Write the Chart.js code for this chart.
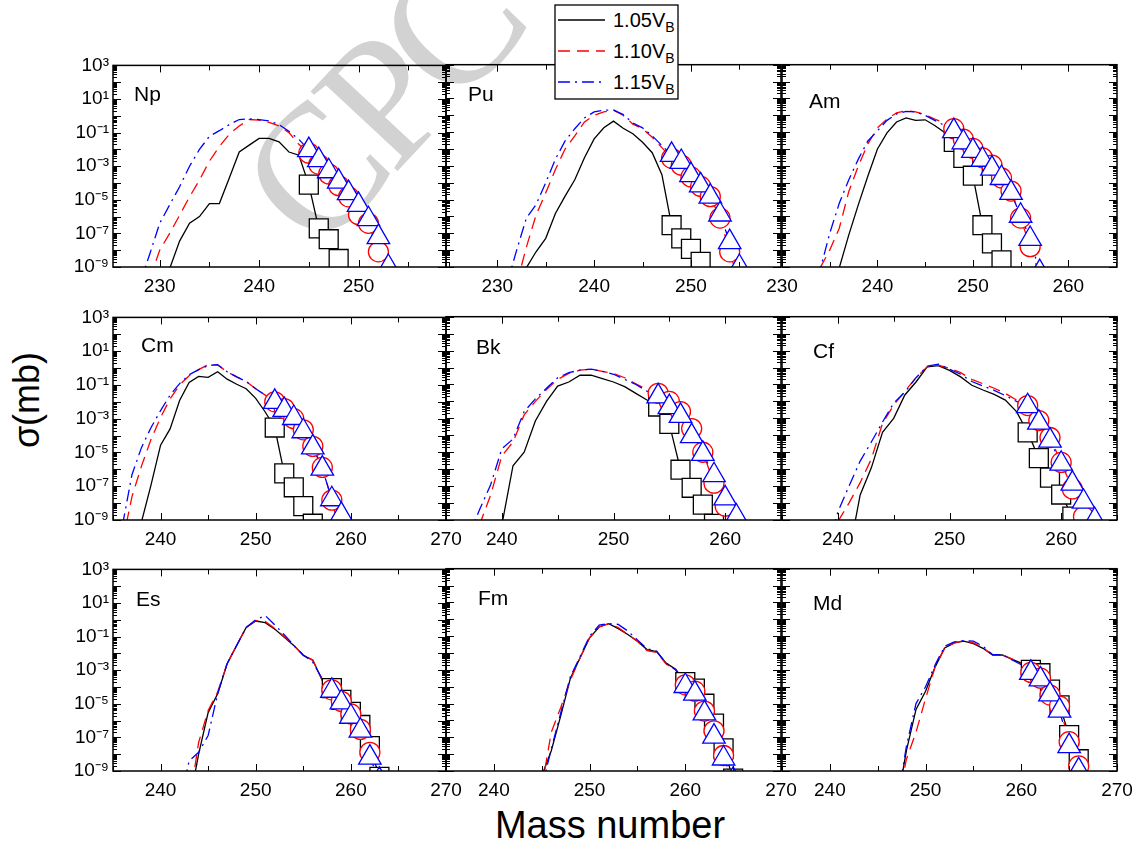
<!DOCTYPE html>
<html><head><meta charset="utf-8">
<script src="https://cdn.jsdelivr.net/npm/chart.js@4.4.1/dist/chart.umd.min.js"></script>
<style>
body{margin:0;background:#fff;}
#wrap{position:relative;width:1143px;height:855px;overflow:hidden;background:#fff;font-family:"Liberation Sans",Arial,sans-serif;}
#wrap canvas{position:absolute;}
#wm{position:absolute;left:380px;top:102px;transform:translate(-50%,-50%) rotate(-47deg);font-family:"Liberation Serif","Times New Roman",serif;font-size:180px;letter-spacing:-10px;color:#d2d2d2;line-height:1;white-space:nowrap;}
#xt{position:absolute;left:410px;top:806px;width:400px;text-align:center;font-size:38px;line-height:38px;color:#000;}
#yt{position:absolute;left:27px;top:400px;transform:translate(-50%,-50%) rotate(-90deg);font-size:36px;line-height:36px;white-space:nowrap;color:#000;}
#leg{position:absolute;left:554px;top:4px;}
</style></head><body>
<div id="wrap">
<div id="wm">CPC</div>
<div id="xt">Mass number</div>
<div id="yt">σ(mb)</div>
<svg id="leg" width="126" height="97" style="z-index:5">
<rect x="1" y="1" width="123" height="94" fill="#fff" stroke="#000" stroke-width="1.3"/>
<line x1="4" y1="16" x2="51" y2="16" stroke="#000" stroke-width="1.3"/>
<text x="59" y="23" font-family="Liberation Sans, Arial, sans-serif" font-size="20">1.05V<tspan font-size="14" dy="5">B</tspan></text>
<line x1="4" y1="47" x2="51" y2="47" stroke="#ff0000" stroke-width="1.3" stroke-dasharray="12 7"/>
<text x="59" y="54" font-family="Liberation Sans, Arial, sans-serif" font-size="20">1.10V<tspan font-size="14" dy="5">B</tspan></text>
<line x1="4" y1="78" x2="51" y2="78" stroke="#0000ff" stroke-width="1.3" stroke-dasharray="12 5 2 5"/>
<text x="59" y="85" font-family="Liberation Sans, Arial, sans-serif" font-size="20">1.15V<tspan font-size="14" dy="5">B</tspan></text>
</svg>
</div>
<script>
// ---------- DATA (cross sections in mb, by mass number) ----------
// Np
const npMass  = [228,229,230,231,232,233,234,235,236,237,238,239,240,241,242,243,244,245,246,247,248,249,250,251,252,253,254];
const npV105  = [null,null,null,8e-10,3.5e-8,4e-7,1e-6,6e-6,6e-6,2e-4,7e-3,1.8e-2,4.5e-2,4.5e-2,2.8e-2,7e-3,4.5e-3,8e-5,2e-7,4.5e-8,3e-9,1e-10,null,null,null,null,null];
const npV110  = [null,2e-10,1e-8,1e-7,1.2e-6,1.5e-5,1.5e-4,2e-3,1.5e-2,8e-2,2.5e-1,6e-1,5.5e-1,4e-1,2.5e-1,1e-1,2e-2,6e-3,1.3e-3,3.5e-4,7e-5,1.5e-5,1.3e-6,4e-7,8e-9,1e-10,null];
const npV115  = [1e-10,6e-9,4e-7,5e-6,6e-5,1e-3,1e-2,6e-2,1.3e-1,3e-1,6e-1,6.5e-1,6e-1,5e-1,3e-1,1.2e-1,4e-2,9e-3,2.3e-3,5e-4,1.2e-4,2.5e-5,5e-6,7e-7,6e-8,1e-9,1e-11];
const npSq = [245,246,247,248];
const npCi = [245,246,247,248,249,250,251,252];
const npTr = [245,246,247,248,249,250,251,252,253];
// Pu
const puMass  = [231,232,233,234,235,236,237,238,239,240,241,242,243,244,245,246,247,248,249,250,251,252,253,254,255,256];
const puV105  = [null,null,9e-10,8e-9,5e-8,1.5e-6,1.6e-5,1.5e-4,3e-3,4e-2,1.8e-1,4.5e-1,1.7e-1,8e-2,2.5e-2,6e-3,3e-4,3e-7,5e-8,1.2e-8,2e-9,1e-10,null,null,null,null];
const puV110  = [null,1e-10,1.5e-8,1.2e-6,2.5e-5,6e-4,1e-2,6e-2,4e-1,1,1.6,2,1,3e-1,1.6e-1,5e-2,1.2e-2,2.8e-3,1.1e-3,2.2e-4,6e-5,1.5e-5,8e-7,8e-9,1e-10,null];
const puV115  = [1e-10,1e-8,8e-7,5e-6,1e-4,2.5e-3,3e-2,1.6e-1,7e-1,1.6,2,2.1,1.1,3.5e-1,1.8e-1,6e-2,1.6e-2,4.5e-3,1.7e-3,2.8e-4,7e-5,1.5e-5,1.3e-6,3e-8,1e-9,1e-11];
const puSq = [248,249,250,251];
const puCi = [248,249,250,251,252,253,254];
const puTr = [248,249,250,251,252,253,254,255];
// Am
const amMass  = [233,234,235,236,237,238,239,240,241,242,243,244,245,246,247,248,249,250,251,252,253,254,255,256,257,258];
const amV105  = [null,null,null,9e-10,8e-8,5e-6,2.5e-4,1e-2,9e-2,4e-1,7e-1,5e-1,5.4e-1,2.5e-1,1e-1,2.6e-2,3e-3,2.6e-4,3e-7,2.5e-8,2.5e-9,1e-10,null,null,null,null];
const amV110  = [null,9e-10,1e-8,2e-7,3e-5,1e-3,2e-2,1.8e-1,6e-1,1.4,1.9,1.6,1.1,6e-1,3.5e-1,1.6e-1,3.8e-2,1.1e-2,3e-3,1.1e-3,1.9e-4,3.2e-5,8e-7,1.6e-8,3e-10,null];
const amV115  = [1e-11,7e-10,1e-7,6e-6,1.5e-4,2.5e-3,3e-2,1.2e-1,5e-1,1.2,1.7,1.6,1,5e-1,2.5e-1,1.15e-1,2.5e-2,7.8e-3,2.3e-3,6.8e-4,1.9e-4,2.5e-5,1.1e-6,4.6e-8,5e-10,1e-11];
const amSq = [248,249,250,251,252,253];
const amCi = [248,249,250,251,252,253,254,255,256,257];
const amTr = [248,249,250,251,252,253,254,255,256,257];
// Cm
const cmMass  = [236,237,238,239,240,241,242,243,244,245,246,247,248,249,250,251,252,253,254,255,256,257,258,259,260];
const cmV105  = [null,null,8e-10,1.2e-7,2.7e-5,2.5e-4,1.2e-2,1.4e-1,3.2e-1,2.8e-1,6e-1,2.2e-1,1.1e-1,6e-2,1.6e-2,2.5e-3,3e-4,5.8e-7,8.7e-8,6.6e-9,6e-10,1e-11,null,null,null];
const cmV110  = [5e-11,2.5e-8,1.6e-6,6e-5,1.2e-3,1.5e-2,1e-1,3.5e-1,8e-1,1.6,1.5,6e-1,3e-1,1.6e-1,6e-2,2.5e-2,1e-2,4e-3,1e-3,2.2e-4,2.3e-5,1.3e-6,1.5e-8,1e-10,null];
const cmV115  = [5e-10,5e-7,2e-5,3e-4,3e-3,2.5e-2,1.2e-1,4e-1,8e-1,1.4,1.6,6e-1,3e-1,1.6e-1,6e-2,2.5e-2,1e-2,3.3e-3,1.1e-3,1.8e-4,2e-5,1.1e-6,1.7e-8,2e-9,1e-11];
const cmSq = [252,253,254,255,256];
const cmCi = [252,253,254,255,256,257,258];
const cmTr = [252,253,254,255,256,257,258,259];
// Bk
const bkMass  = [237,238,239,240,241,242,243,244,245,246,247,248,249,250,251,252,253,254,255,256,257,258,259,260,261,262];
const bkV105  = [null,null,null,5e-10,1.6e-6,1e-5,7e-4,1e-2,8e-2,1.4e-1,3.5e-1,3.5e-1,2.2e-1,1.4e-1,7.5e-2,3e-2,1.2e-2,5e-3,4.7e-4,9.3e-7,8e-8,8e-9,6e-10,1e-11,null,null];
const bkV110  = [null,5e-10,3e-8,6e-6,4e-5,1.6e-3,1e-2,5e-2,2e-1,4.5e-1,7e-1,8e-1,6e-1,4.5e-1,2.5e-1,1.1e-1,5e-2,3e-2,1e-2,2.5e-3,2.5e-4,1e-5,1.5e-7,6.6e-9,1e-10,null];
const bkV115  = [1e-10,4e-9,1.2e-7,1.6e-5,6e-5,2.5e-3,1.4e-2,6e-2,2.5e-1,5e-1,7e-1,8e-1,6e-1,4e-1,2e-1,1e-1,4e-2,2e-2,4.6e-3,1.4e-3,9e-5,8e-6,4.4e-7,1.9e-8,1.6e-9,1e-11];
const bkSq = [254,255,256,257,258,259];
const bkCi = [254,255,256,257,258,259,260];
const bkTr = [254,255,256,257,258,259,260,261];
// Cf
const cfMass  = [239,240,241,242,243,244,245,246,247,248,249,250,251,252,253,254,255,256,257,258,259,260,261,262,263,264];
const cfV105  = [null,null,1e-11,3e-8,1.2e-6,1.5e-4,1e-3,2.4e-2,1.4e-1,1.1,1.3,6.8e-1,2.8e-1,9e-2,4.7e-2,2.6e-2,1.2e-2,2.5e-3,1.5e-4,4.5e-6,3.2e-7,3.2e-8,1.6e-9,1e-11,null,null];
const cfV110  = [null,8e-10,1e-8,1.6e-7,4e-6,5e-4,6e-3,4e-2,2.5e-1,1.1,1.4,9e-1,5e-1,2e-1,1.1e-1,6e-2,3e-2,1.2e-2,5.7e-3,7.4e-4,7.4e-5,2.5e-6,6.8e-8,1.6e-9,1e-11,null];
const cfV115  = [1e-11,3e-9,1e-7,3e-6,4e-5,6e-4,8e-3,3.5e-2,2.5e-1,1.2,1.6,8e-1,4e-1,1.5e-1,8e-2,4.5e-2,2.2e-2,1e-2,5.2e-3,5.6e-4,4.8e-5,2.1e-6,1.4e-7,1.2e-8,1e-9,1e-11];
const cfSq = [257,258,259,260,261];
const cfCi = [257,258,259,260,261,262];
const cfTr = [257,258,259,260,261,262,263];
// Es
const esMass  = [242,243,244,245,246,247,248,249,250,251,252,253,254,255,256,257,258,259,260,261,262,263,264];
const esV105  = [null,1e-11,1e-8,3e-6,4e-5,2.4e-3,3e-2,3.5e-1,8.5e-1,6.8e-1,2.8e-1,9e-2,3e-2,7.6e-3,3.9e-3,2.5e-4,8.5e-5,1.7e-5,3.3e-6,5.5e-7,3e-8,4.5e-10,1e-11];
const esV110  = [null,1e-11,5e-8,4e-6,5e-5,2.5e-3,3e-2,3.5e-1,9e-1,8e-1,3e-1,1e-1,3e-2,8e-3,4e-3,2.5e-4,6.8e-5,1.4e-5,2.5e-6,3e-7,1.3e-8,1e-10,null];
const esV115  = [1e-11,4e-9,1.3e-8,1.3e-7,4e-5,2.5e-3,3e-2,3.5e-1,1,1.8,5e-1,1.3e-1,3e-2,8e-3,3e-3,3e-4,6e-5,1.2e-5,1.7e-6,2.5e-7,6.3e-9,3e-10,1e-11];
const esSq = [258,259,260,261,262,263];
const esCi = [258,259,260,261,262];
const esTr = [258,259,260,261,262,263];
// Fm
const fmMass  = [245,246,247,248,249,250,251,252,253,254,255,256,257,258,259,260,261,262,263,264,265,266];
const fmV105  = [5e-10,1.6e-8,2e-6,3.2e-4,5e-3,8e-2,3.5e-1,5.5e-1,2.8e-1,1.25e-1,5e-2,1.6e-2,1.2e-2,2.5e-3,1.1e-3,1.9e-4,7.8e-5,9.8e-6,6.5e-7,2.2e-8,3.5e-10,1e-11];
const fmV110  = [1e-10,2e-7,6e-6,2.5e-4,5e-3,8e-2,3.5e-1,5.6e-1,3.2e-1,1.25e-1,5e-2,1.4e-2,1.1e-2,2.2e-3,1e-3,1.3e-4,5.4e-5,3.6e-6,2.4e-7,8.3e-9,1e-10,null];
const fmV115  = [1e-10,2e-8,3e-6,4e-4,6e-3,1e-1,4.5e-1,5.5e-1,5e-1,2e-1,6e-2,1.8e-2,1.3e-2,2.5e-3,1e-3,1.1e-4,3.9e-5,2.6e-6,1.1e-7,5.5e-9,3e-10,1e-11];
const fmSq = [260,261,262,263,264,265];
const fmCi = [260,261,262,263,264];
const fmTr = [260,261,262,263,264,265];
// Md
const mdMass  = [247,248,249,250,251,252,253,254,255,256,257,258,259,260,261,262,263,264,265,266,267];
const mdV105  = [1e-11,1.6e-8,4.5e-6,5.4e-5,1.5e-3,2e-2,4e-2,5e-2,3.6e-2,1.9e-2,7.6e-3,7.6e-3,4.3e-3,2.5e-3,1e-3,6.3e-4,6.8e-5,7.8e-6,1.35e-7,5e-9,1e-11];
const mdV110  = [1e-11,5e-9,2e-7,2e-5,1.5e-3,2e-2,4e-2,5.5e-2,4e-2,2e-2,8e-3,8e-3,4.5e-3,2.5e-3,7e-4,3.2e-4,3.2e-5,7e-6,5.5e-8,2e-9,1e-11];
const mdV115  = [1e-11,3e-8,1e-5,1e-4,2e-3,2.5e-2,4.5e-2,5.5e-2,5e-2,2.5e-2,8e-3,8e-3,4e-3,2e-3,6.6e-4,2.7e-4,3.5e-5,3.8e-6,3e-8,1.1e-9,1e-11];
const mdSq = [261,262,263,264,265,266];
const mdCi = [261,262,263,264,265,266];
const mdTr = [261,262,263,264,265,266];

const Y_TICK_VALUES = [1e-9,1e-7,1e-5,1e-3,1e-1,1e1,1e3];

// ---------- LAYOUT ----------
const COLS = [[113,446],[446,781],[782,1117]];
const ROWS = [[62,267],[314,520],[566,771]];
const PADL = 70, PADR = 30, PADT = 12, PADB = 40;

const PANELS = [
  {label:'Np', row:0, col:0, xMin:225.3, xMax:258.8, mass:npMass, a:npV105, b:npV110, c:npV115, sq:npSq, ci:npCi, tr:npTr, lx:21, ly:36},
  {label:'Pu', row:0, col:1, xMin:224.7, xMax:259.3, mass:puMass, a:puV105, b:puV110, c:puV115, sq:puSq, ci:puCi, tr:puTr, lx:22, ly:36},
  {label:'Am', row:0, col:2, xMin:230,   xMax:265.1, mass:amMass, a:amV105, b:amV110, c:amV115, sq:amSq, ci:amCi, tr:amTr, lx:27, ly:43},
  {label:'Cm', row:1, col:0, xMin:235,   xMax:270,   mass:cmMass, a:cmV105, b:cmV110, c:cmV115, sq:cmSq, ci:cmCi, tr:cmTr, lx:28, ly:35},
  {label:'Bk', row:1, col:1, xMin:235,   xMax:265,   mass:bkMass, a:bkV105, b:bkV110, c:bkV115, sq:bkSq, ci:bkCi, tr:bkTr, lx:30, ly:37},
  {label:'Cf', row:1, col:2, xMin:235,   xMax:265,   mass:cfMass, a:cfV105, b:cfV110, c:cfV115, sq:cfSq, ci:cfCi, tr:cfTr, lx:31, ly:41},
  {label:'Es', row:2, col:0, xMin:235,   xMax:270,   mass:esMass, a:esV105, b:esV110, c:esV115, sq:esSq, ci:esCi, tr:esTr, lx:23, ly:37},
  {label:'Fm', row:2, col:1, xMin:235,   xMax:270,   mass:fmMass, a:fmV105, b:fmV110, c:fmV115, sq:fmSq, ci:fmCi, tr:fmTr, lx:32, ly:36},
  {label:'Md', row:2, col:2, xMin:235,   xMax:270,   mass:mdMass, a:mdV105, b:mdV110, c:mdV115, sq:mdSq, ci:mdCi, tr:mdTr, lx:31, ly:41}
];

const FONT = '"Liberation Sans", Arial, sans-serif';
Chart.defaults.font.family = FONT;
Chart.defaults.color = '#000';

const SUP = {'-':'\u207B','0':'\u2070','1':'\u00B9','2':'\u00B2','3':'\u00B3','4':'\u2074','5':'\u2075','6':'\u2076','7':'\u2077','8':'\u2078','9':'\u2079'};
function expLabel(v){
  const e = Math.round(Math.log10(v));
  return '10' + String(e).split('').map(ch => SUP[ch]).join('');
}
function points(mass, vals){
  const out = [];
  mass.forEach((m,i) => { if (vals[i] !== null) out.push({x:m, y:vals[i]}); });
  return out;
}
function marks(mass, vals, list){
  return list.map(m => ({x:m, y:vals[mass.indexOf(m)]}));
}
function lineDs(label, data, color, dash, order){
  return {label, data, borderColor:color, borderWidth:1.3, borderDash:dash, pointRadius:0, fill:false, tension:0, order};
}
function markDs(label, data, color, style, r, order){
  return {label, data, showLine:false, pointStyle:style, pointRadius:r, pointBorderColor:color,
          pointBackgroundColor:'#ffffff', pointBorderWidth:1.3, order};
}

function framePlugin(p){
  return {
    id:'panelFrame',
    afterDraw(chart){
      const {ctx, chartArea:a} = chart;
      const xs = chart.scales.x, ys = chart.scales.y;
      ctx.save();
      ctx.strokeStyle = '#000';
      ctx.lineWidth = 1;
      ctx.beginPath();
      for (let v = Math.ceil(xs.min/5)*5; v <= xs.max + 1e-9; v += 5){
        const px = Math.round(xs.getPixelForValue(v)) + 0.5;
        const len = (v % 10 === 0) ? 7 : 5;
        ctx.moveTo(px, a.bottom); ctx.lineTo(px, a.bottom - len);
        ctx.moveTo(px, a.top); ctx.lineTo(px, a.top + len);
      }
      for (let e = -9; e <= 3; e++){
        for (let m = 1; m <= 9; m++){
          if (e === 3 && m > 1) break;
          const py = Math.round(ys.getPixelForValue(m * Math.pow(10, e))) + 0.5;
          const len = (m === 1) ? 8 : 4;
          ctx.moveTo(a.left, py); ctx.lineTo(a.left + len, py);
          ctx.moveTo(a.right, py); ctx.lineTo(a.right - len, py);
        }
      }
      ctx.stroke();
      ctx.lineWidth = 1.5;
      ctx.strokeRect(a.left, a.top, a.right - a.left, a.bottom - a.top);
      ctx.fillStyle = '#000';
      ctx.font = '21px ' + FONT;
      ctx.textBaseline = 'alphabetic';
      ctx.textAlign = 'left';
      ctx.fillText(p.label, a.left + p.lx, a.top + p.ly);
      ctx.restore();
    }
  };
}

const wrap = document.getElementById('wrap');
PANELS.forEach(p => {
  const [x0, x1] = COLS[p.col];
  const [y0, y1] = ROWS[p.row];
  const W = x1 - x0 + PADL + PADR, H = y1 - y0 + PADT + PADB;
  const cv = document.createElement('canvas');
  cv.width = W; cv.height = H;
  cv.style.left = (x0 - PADL) + 'px'; cv.style.top = (y0 - PADT) + 'px';
  cv.style.width = W + 'px'; cv.style.height = H + 'px';
  cv.style.zIndex = 2;
  wrap.appendChild(cv);
  new Chart(cv, {
    type:'line',
    data:{datasets:[
      markDs('1.15VB marks', marks(p.mass, p.c, p.tr), '#0000ff', 'triangle', 13, 1),
      markDs('1.10VB marks', marks(p.mass, p.b, p.ci), '#ff0000', 'circle', 10, 2),
      markDs('1.05VB marks', marks(p.mass, p.a, p.sq), '#000000', 'rect', 13.4, 3),
      lineDs('1.15VB', points(p.mass, p.c), '#0000ff', [12,5,2,5], 4),
      lineDs('1.10VB', points(p.mass, p.b), '#ff0000', [12,7], 5),
      lineDs('1.05VB', points(p.mass, p.a), '#000000', [], 6)
    ]},
    options:{
      responsive:false, animation:false, devicePixelRatio:1, events:[],
      layout:{padding:{left:0, right:PADR, top:PADT, bottom:0}},
      plugins:{legend:{display:false}, tooltip:{enabled:false}},
      scales:{
        x:{type:'linear', min:p.xMin, max:p.xMax,
           grid:{display:false, drawTicks:false}, border:{display:false},
           afterBuildTicks:(s) => {
             const t = [];
             for (let v = Math.ceil(p.xMin/10)*10; v <= p.xMax + 1e-9; v += 10) t.push({value:v});
             s.ticks = t;
           },
           ticks:{autoSkip:false, maxRotation:0, padding:8, color:'#000', font:{size:19, family:FONT}, callback:(v) => String(v)},
           afterFit:(s) => { s.height = PADB; }},
        y:{type:'logarithmic', min:1e-9, max:1e3,
           grid:{display:false, drawTicks:false}, border:{display:false},
           afterBuildTicks:(s) => { s.ticks = Y_TICK_VALUES.map(v => ({value:v})); },
           ticks:{display:p.col === 0, autoSkip:false, padding:4, color:'#000', font:{size:19, family:FONT}, callback:(v) => expLabel(v)},
           afterFit:(s) => { s.width = PADL; }}
      }
    },
    plugins:[framePlugin(p)]
  });
});
</script>
</body></html>
